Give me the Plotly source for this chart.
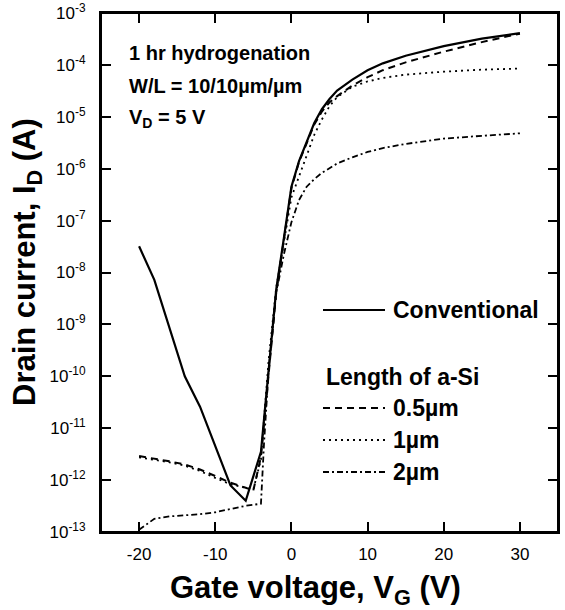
import plotly.graph_objects as go

# ---------------- data ----------------
vg_conv = [-20, -18, -14, -12, -8, -6, -4, -3, -2, -1, 0, 1, 2, 3, 4, 5, 6, 8, 10, 12, 15, 20, 25, 30]
id_conv = [3.2e-8, 7.2e-9, 1.0e-10, 2.6e-11, 7.9e-13, 4.0e-13, 3.5e-12, 1.26e-10, 4.6e-9, 4.5e-8,
           4.5e-7, 1.4e-6, 3.2e-6, 7.6e-6, 1.4e-5, 2.2e-5, 3.2e-5, 5.2e-5, 7.9e-5, 1.07e-4,
           1.5e-4, 2.3e-4, 3.2e-4, 4.1e-4]

vg_05 = [-20, -18, -16, -14, -12, -10, -8, -6, -5, -4, -3, -2, -1, 0, 1, 2, 3, 4, 5, 6, 8, 10, 12, 15, 20, 25, 30]
id_05 = [2.9e-12, 2.6e-12, 2.3e-12, 2.0e-12, 1.6e-12, 1.2e-12, 8.9e-13, 7.1e-13, 6.3e-13, 2.8e-12,
         1.1e-10, 4.0e-9, 4.2e-8, 4.2e-7, 1.35e-6, 3.0e-6, 7.1e-6, 1.26e-5, 1.9e-5, 2.5e-5,
         4.0e-5, 5.8e-5, 7.9e-5, 1.12e-4, 1.8e-4, 2.75e-4, 4.0e-4]

vg_1 = [-20, -18, -16, -14, -12, -10, -8, -6, -5, -4, -3, -2, -1, 0, 1, 2, 3, 4, 5, 6, 8, 10, 12, 15, 20, 25, 30]
id_1 = [2.75e-12, 2.5e-12, 2.2e-12, 1.9e-12, 1.5e-12, 1.1e-12, 8.3e-13, 7.1e-13, 6.6e-13, 2.5e-12,
        2.0e-10, 5.0e-9, 4.0e-8, 2.8e-7, 7.1e-7, 1.8e-6, 4.5e-6, 8.9e-6, 1.6e-5, 2.4e-5,
        3.8e-5, 4.8e-5, 5.6e-5, 6.5e-5, 7.4e-5, 8.1e-5, 8.5e-5]

vg_2 = [-20, -19, -18, -16, -14, -12, -10, -8, -6, -4, -3.6, -3, -2, -1, 0, 1, 2, 3, 4, 6, 8, 10, 12, 15, 20, 25, 30]
id_2 = [1.1e-13, 1.4e-13, 1.8e-13, 2.0e-13, 2.1e-13, 2.2e-13, 2.4e-13, 2.8e-13, 3.2e-13, 3.5e-13,
        5.0e-12, 1.26e-10, 4.0e-9, 2.2e-8, 9.3e-8, 2.5e-7, 4.5e-7, 6.3e-7, 8.3e-7, 1.26e-6,
        1.66e-6, 2.1e-6, 2.5e-6, 3.0e-6, 3.8e-6, 4.3e-6, 4.8e-6]

x_ticks = [-20, -10, 0, 10, 20, 30]
x_ticktext = ["-20", "-10", "0", "10", "20", "30"]
y_exponents = [-13, -12, -11, -10, -9, -8, -7, -6, -5, -4, -3]
y_tickvals = [10.0 ** e for e in y_exponents]
y_ticktext = ["10<sup>%d</sup>" % e for e in y_exponents]

legend_labels = ["Conventional", "0.5\u00b5m", "1\u00b5m", "2\u00b5m"]
legend_header = "Length of a-Si"
info_lines = ["1 hr hydrogenation", "W/L = 10/10\u00b5m/\u00b5m", "V<sub>D</sub> = 5 V"]

# ---------------- layout helpers ----------------
W, H = 565, 610
L, R, T, B = 101, 558, 13, 532   # plot area in window pixels
FONT = "Arial, Liberation Sans, Helvetica, sans-serif"


def px(x):
    return (x - L) / (R - L)


def py(y):
    return (B - y) / (B - T)


dash_05 = "7px,5px"
dash_1 = "2px,4px"
dash_2 = "6px,3px,2px,3px"

fig = go.Figure()
fig.add_trace(go.Scatter(x=vg_conv, y=id_conv, mode="lines",
                         line=dict(color="black", width=2.2), showlegend=False))
fig.add_trace(go.Scatter(x=vg_05, y=id_05, mode="lines",
                         line=dict(color="black", width=2.0, dash=dash_05), showlegend=False))
fig.add_trace(go.Scatter(x=vg_1, y=id_1, mode="lines",
                         line=dict(color="black", width=1.8, dash=dash_1), showlegend=False))
fig.add_trace(go.Scatter(x=vg_2, y=id_2, mode="lines",
                         line=dict(color="black", width=1.8, dash=dash_2), showlegend=False))

annotations = []
shapes = []

for txt, yy in zip(info_lines, [53, 86, 119]):
    annotations.append(dict(x=px(127), y=py(yy), xref="paper", yref="paper", text="<b>%s</b>" % txt,
                            showarrow=False, xanchor="left", yanchor="middle",
                            font=dict(family=FONT, size=20, color="black")))

leg_rows = [(310, legend_labels[0], None), (408, legend_labels[1], dash_05),
            (440, legend_labels[2], dash_1), (472, legend_labels[3], dash_2)]
for yy, lab, d in leg_rows:
    shapes.append(dict(type="line", xref="paper", yref="paper", x0=px(323), x1=px(385),
                       y0=py(yy), y1=py(yy),
                       line=dict(color="black", width=2 if d is None else 1.8, dash=d if d else "solid")))
    annotations.append(dict(x=px(391), y=py(yy), xref="paper", yref="paper", text="<b>%s</b>" % lab,
                            showarrow=False, xanchor="left", yanchor="middle",
                            font=dict(family=FONT, size=23, color="black")))
annotations.append(dict(x=px(324), y=py(377), xref="paper", yref="paper", text="<b>%s</b>" % legend_header,
                        showarrow=False, xanchor="left", yanchor="middle",
                        font=dict(family=FONT, size=23, color="black")))

annotations.append(dict(x=px(315), y=py(568), xref="paper", yref="paper",
                        text="<b>Gate voltage, V<sub>G</sub> (V)</b>", showarrow=False,
                        xanchor="center", yanchor="top", font=dict(family=FONT, size=31, color="black")))
annotations.append(dict(x=px(27), y=py(262), xref="paper", yref="paper",
                        text="<b>Drain current, I<sub>D</sub> (A)</b>", showarrow=False, textangle=-90,
                        xanchor="center", yanchor="middle", font=dict(family=FONT, size=31, color="black")))

# plot frame
shapes.append(dict(type="rect", xref="paper", yref="paper", x0=0, x1=1, y0=0, y1=1,
                   line=dict(color="black", width=2), layer="above"))

axis_common = dict(showline=True, linecolor="black", linewidth=2, mirror="ticks",
                   ticks="inside", ticklen=10, tickwidth=2, tickcolor="black",
                   showgrid=False, zeroline=False, ticklabeloverflow="allow",
                   tickfont=dict(family=FONT, size=17, color="black"))

fig.update_layout(
    width=W, height=H,
    margin=dict(l=L, r=W - R, t=T, b=H - B, autoexpand=False),
    paper_bgcolor="white", plot_bgcolor="white",
    xaxis=dict(range=[-25, 35], tickvals=x_ticks, ticktext=x_ticktext, ticklabelstandoff=6, **axis_common),
    yaxis=dict(type="log", range=[-13, -3], tickvals=y_tickvals, ticktext=y_ticktext,
               ticklabelstandoff=10, **axis_common),
    annotations=annotations, shapes=shapes, showlegend=False,
)

# remove the page's default 8px body margin so the figure sits at the window origin
fig.write_html("out.html", config={"displayModeBar": False},
               post_script="document.body.style.margin='0px';")
